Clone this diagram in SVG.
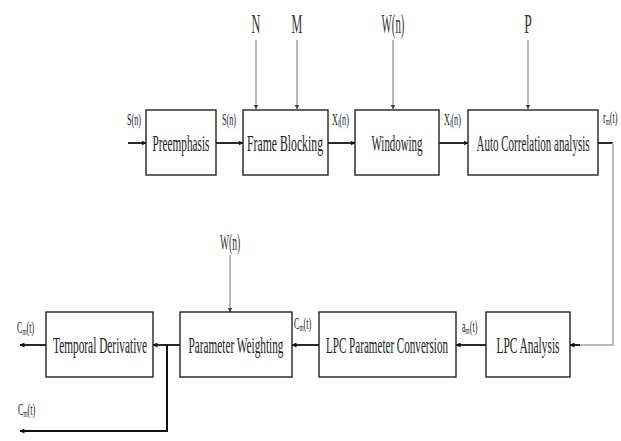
<svg xmlns="http://www.w3.org/2000/svg" width="621" height="441" viewBox="0 0 621 441">
<defs>
<style>
.box{fill:#fff;stroke:#222;stroke-width:1.4}
.t{font-family:"Liberation Serif","Times New Roman",serif;font-size:24px;fill:#222;text-anchor:middle}
.lbl{font-family:"Liberation Serif","Times New Roman",serif;font-size:17px;fill:#222}
.sub{font-size:11px}
.par{font-family:"Liberation Serif","Times New Roman",serif;font-size:27px;fill:#333;text-anchor:middle}
.main{stroke:#111;stroke-width:1.8;fill:none}
.thin{stroke:#777;stroke-width:1;fill:none}
.fb{stroke:#bbb;stroke-width:2;fill:none}
</style>
<marker id="ah" viewBox="0 0 10 10" refX="9" refY="5" markerWidth="5" markerHeight="5" orient="auto" markerUnits="userSpaceOnUse">
<path d="M0,0 L10,5 L0,10 z" fill="#111"/>
</marker>
<marker id="ahs" viewBox="0 0 10 10" refX="9" refY="5" markerWidth="5" markerHeight="6" orient="auto" markerUnits="userSpaceOnUse">
<path d="M0,0 L10,5 L0,10 z" fill="#444"/>
</marker>
</defs>
<rect width="621" height="441" fill="#fff"/>

<g id="connectors">
<line class="main" x1="128" y1="143" x2="146" y2="143" marker-end="url(#ah)"/>
<line class="main" x1="216" y1="143" x2="243" y2="143" marker-end="url(#ah)"/>
<line class="main" x1="328" y1="143" x2="355" y2="143" marker-end="url(#ah)"/>
<line class="main" x1="439" y1="143" x2="468" y2="143" marker-end="url(#ah)"/>
<line class="main" x1="598" y1="143" x2="613" y2="143"/>
<polyline class="fb" points="613,143 613,345 575,345"/>
<line class="main" x1="580" y1="345" x2="570" y2="345" marker-end="url(#ah)"/>
<line class="main" x1="486" y1="345" x2="456" y2="345" marker-end="url(#ah)"/>
<line class="main" x1="319" y1="345" x2="292" y2="345" marker-end="url(#ah)"/>
<line class="main" x1="180" y1="345" x2="153" y2="345" marker-end="url(#ah)"/>
<line class="main" x1="46" y1="345" x2="20" y2="345" marker-end="url(#ah)"/>
<polyline class="main" points="167,345 167,431 20,431" marker-end="url(#ah)" style="stroke-width:2"/>
<line class="thin" x1="256" y1="40" x2="256" y2="109" marker-end="url(#ahs)"/>
<line class="thin" x1="297" y1="40" x2="297" y2="109" marker-end="url(#ahs)"/>
<line class="thin" x1="393" y1="40" x2="393" y2="109" marker-end="url(#ahs)"/>
<line class="thin" x1="528" y1="40" x2="528" y2="109" marker-end="url(#ahs)"/>
<line class="thin" x1="230" y1="255" x2="230" y2="312" marker-end="url(#ahs)"/>
</g>

<g id="labels">
<g transform="translate(256,33) scale(0.45,1)"><text class="par">N</text></g>
<g transform="translate(297,33) scale(0.45,1)"><text class="par">M</text></g>
<g transform="translate(393,33) scale(0.4,1)"><text class="par">W(n)</text></g>
<g transform="translate(528,33) scale(0.5,1)"><text class="par">P</text></g>
<g transform="translate(230,250) scale(0.4,1)"><text class="par" style="font-size:24px">W(n)</text></g>
<g transform="translate(127,125) scale(0.48,1)"><text class="lbl">S(n)</text></g>
<g transform="translate(222,125) scale(0.48,1)"><text class="lbl">S(n)</text></g>
<g transform="translate(332,125) scale(0.48,1)"><text class="lbl">X<tspan class="sub" dy="2">l</tspan><tspan dy="-2">(n)</tspan></text></g>
<g transform="translate(444,125) scale(0.48,1)"><text class="lbl">X<tspan class="sub" dy="2">l</tspan><tspan dy="-2">(n)</tspan></text></g>
<g transform="translate(603,123) scale(0.48,1)"><text class="lbl">r<tspan class="sub" dy="2">m</tspan><tspan dy="-2">(t)</tspan></text></g>
<g transform="translate(462,332) scale(0.48,1)"><text class="lbl">a<tspan class="sub" dy="2">m</tspan><tspan dy="-2">(t)</tspan></text></g>
<g transform="translate(294,329) scale(0.48,1)"><text class="lbl">C<tspan class="sub" dy="2">m</tspan><tspan dy="-2">(t)</tspan></text></g>
<g transform="translate(17,333) scale(0.48,1)"><text class="lbl">C<tspan class="sub" dy="2">m</tspan><tspan dy="-2">(t)</tspan></text></g>
<g transform="translate(18,415) scale(0.48,1)"><text class="lbl">C<tspan class="sub" dy="2">m</tspan><tspan dy="-2">(t)</tspan></text></g>
</g>

<g id="preemphasis">
<rect class="box" x="146" y="110" width="70" height="65"/>
<g transform="translate(181,151) scale(0.47,1)"><text class="t" textLength="121.3" lengthAdjust="spacingAndGlyphs">Preemphasis</text></g>
</g>
<g id="frame-blocking">
<rect class="box" x="243" y="110" width="85" height="65"/>
<g transform="translate(285,151) scale(0.47,1)"><text class="t" textLength="161.7" lengthAdjust="spacingAndGlyphs">Frame Blocking</text></g>
</g>
<g id="windowing">
<rect class="box" x="355" y="110" width="84" height="65"/>
<g transform="translate(397,151) scale(0.47,1)"><text class="t" textLength="108.5" lengthAdjust="spacingAndGlyphs">Windowing</text></g>
</g>
<g id="auto-correlation">
<rect class="box" x="468" y="110" width="130" height="65"/>
<g transform="translate(533,151) scale(0.47,1)"><text class="t" textLength="240.4" lengthAdjust="spacingAndGlyphs">Auto Correlation analysis</text></g>
</g>
<g id="lpc-analysis">
<rect class="box" x="486" y="312" width="84" height="65"/>
<g transform="translate(528,353) scale(0.47,1)"><text class="t" textLength="134" lengthAdjust="spacingAndGlyphs">LPC Analysis</text></g>
</g>
<g id="lpc-conversion">
<rect class="box" x="319" y="312" width="137" height="65"/>
<g transform="translate(387,353) scale(0.47,1)"><text class="t" textLength="259.6" lengthAdjust="spacingAndGlyphs">LPC Parameter Conversion</text></g>
</g>
<g id="parameter-weighting">
<rect class="box" x="180" y="312" width="112" height="65"/>
<g transform="translate(236,353) scale(0.47,1)"><text class="t" textLength="202.1" lengthAdjust="spacingAndGlyphs">Parameter Weighting</text></g>
</g>
<g id="temporal-derivative">
<rect class="box" x="46" y="312" width="107" height="65"/>
<g transform="translate(100,353) scale(0.47,1)"><text class="t" textLength="200" lengthAdjust="spacingAndGlyphs">Temporal Derivative</text></g>
</g>
</svg>
